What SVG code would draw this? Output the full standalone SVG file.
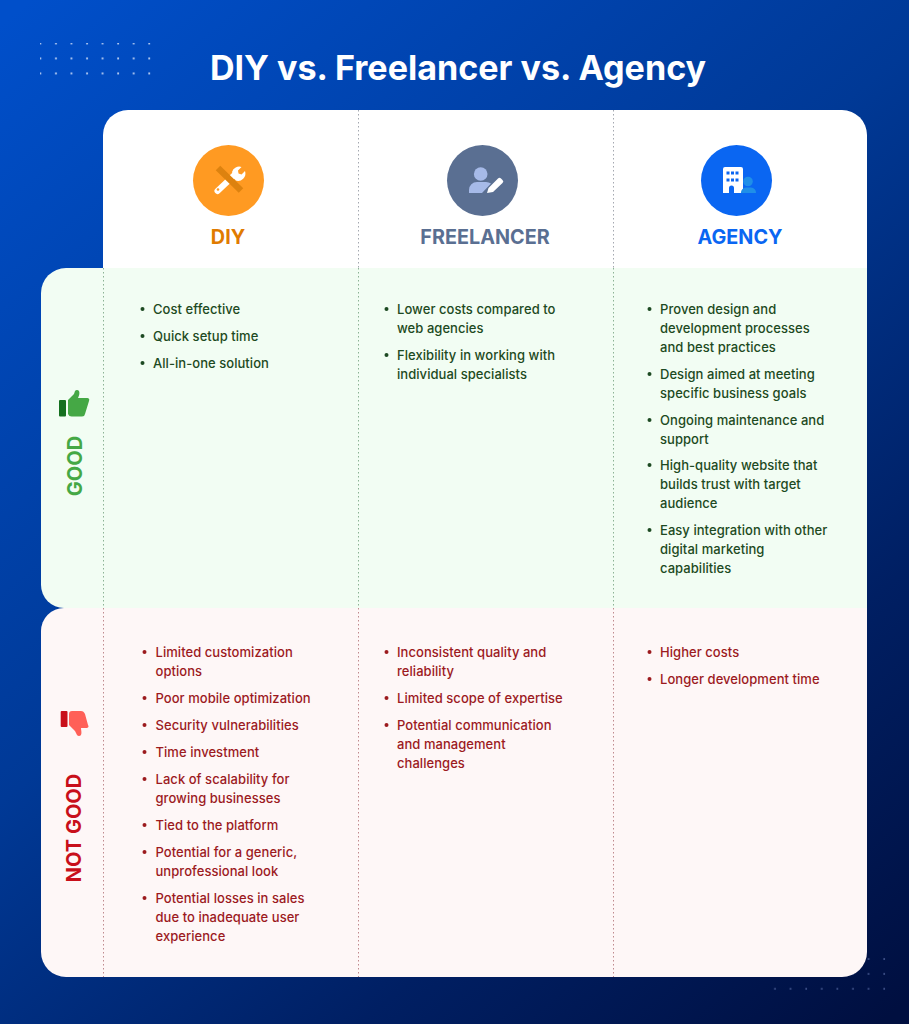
<svg xmlns="http://www.w3.org/2000/svg" width="909" height="1024" viewBox="0 0 909 1024">
<defs>
<linearGradient id="bg" gradientUnits="userSpaceOnUse" x1="30" y1="0" x2="880" y2="1024"><stop offset="0" stop-color="#004fca"/><stop offset="0.45" stop-color="#003996"/><stop offset="0.75" stop-color="#001f63"/><stop offset="1" stop-color="#000f40"/></linearGradient>
<pattern id="dotsA" patternUnits="userSpaceOnUse" x="32.500" y="35.500" width="15.550" height="15"><rect x="7" y="7" width="1.800" height="1.800" fill="#c5d6f5"/></pattern>
<pattern id="dotsB" patternUnits="userSpaceOnUse" x="767" y="951" width="15.600" height="14.900"><rect x="7.200" y="7.200" width="1.600" height="1.600" fill="#4a5d96"/></pattern>
</defs>
<style>
text{font-family:Inter,"Noto Sans","Liberation Sans",sans-serif}
.title{font-size:34.100px;font-weight:700;fill:#fff;text-anchor:middle}
.head{font-size:19.800px;font-weight:700;text-anchor:middle}
.g{font-size:13px;font-weight:500;fill:#1d4a22;letter-spacing:.05px}
.b{font-size:13px;font-weight:500;fill:#9c1a1e;letter-spacing:.05px}
.gb{fill:#1d4a22}.bb{fill:#9c1a1e}
.side{font-size:20px;font-weight:700;text-anchor:middle}
.d{fill:none;stroke-width:1;stroke-dasharray:1.500 2.500}
</style>
<rect width="909" height="1024" fill="url(#bg)"/>
<rect x="40" y="43" width="112" height="32" fill="url(#dotsA)"/>
<rect x="772" y="955" width="115" height="37" fill="url(#dotsB)"/>
<text class="title" x="458" y="80">DIY vs. Freelancer vs. Agency</text>
<g id="header-card"><path d="M103 270V135a25 25 0 0 1 25-25H842a25 25 0 0 1 25 25V270Z" fill="#fff"/></g>
<g id="good-row"><path d="M66 268H867V608H64A23 23 0 0 1 41 585V293A25 25 0 0 1 66 268Z" fill="#f2fdf3"/></g>
<g id="notgood-row"><path d="M64 608H867V952A25 25 0 0 1 842 977H66A25 25 0 0 1 41 952V631A23 23 0 0 1 64 608Z" fill="#fef7f7"/></g>
<g id="connectors">
<path class="d" stroke="#a4a8b0" d="M358.500 110V268M613.500 110V268"/>
<path class="d" stroke="#8cb294" d="M103.500 268V608M358.500 268V608M613.500 268V608"/>
<path class="d" stroke="#c08a8e" d="M103.500 608V977M358.500 608V977M613.500 608V977"/>
</g>
<g id="col-diy">
<circle cx="228.500" cy="180.500" r="35.500" fill="#ff9a22"/>
<path d="M217.500 191L235 174.500" stroke="#fff" stroke-width="6" stroke-linecap="round"/>
<path d="M232 172a7.500 7.500 0 0 1 9.500-5l-3.500 3.500.5 3 3 1 3.500-3.500a7.500 7.500 0 0 1-9.500 9.500Z" fill="#fff"/>
<path d="M218 168L241 190.500" stroke="#dd820f" stroke-width="6.500"/>
<circle cx="218" cy="189.500" r="1.300" fill="#ff9a22"/>
<text class="head" x="228" y="244" fill="#e07b00">DIY</text>
</g>
<g id="col-freelancer">
<circle cx="482.500" cy="180.500" r="35.500" fill="#5a6f92"/>
<circle cx="480.700" cy="174" r="6.800" fill="#a6bae8"/>
<path d="M469 193v-3a8 8 0 0 1 8-8h9a9 9 0 0 1 5 1.500l-9 9.500Z" fill="#a6bae8"/>
<path d="M487 193l1.500-5 9.500-9.500a2 2 0 0 1 3 0l1.500 1.500a2 2 0 0 1 0 3l-9.500 9Z" fill="#fff"/>
<text class="head" x="485" y="244" fill="#5a6f92">FREELANCER</text>
</g>
<g id="col-agency">
<circle cx="736.500" cy="180.500" r="35.500" fill="#0a66f2"/>
<path d="M725 167h16a2 2 0 0 1 2 2v24h-9v-5a2.500 2.500 0 0 0-5 0v5h-6v-24a2 2 0 0 1 2-2Z" fill="#fff"/>
<path d="M726.500 171.500h3v3h-3zM731 171.500h3v3h-3zM735.500 171.500h3v3h-3zM726.500 178.500h3v3h-3zM731 178.500h3v3h-3zM735.500 178.500h3v3h-3z" fill="#0a66f2"/>
<circle cx="748" cy="181.500" r="4.800" fill="#1f8fe8"/>
<path d="M741 193a5 5 0 0 1 5-5.500h5a5 5 0 0 1 5 5.500Z" fill="#1f8fe8"/>
<text class="head" x="740" y="244" fill="#0a66f2">AGENCY</text>
</g>
<g id="label-good">
<rect x="59" y="400" width="7" height="16.500" rx="1" fill="#15701f"/>
<path d="M68 414V400l6-6 1-3a2.500 2.500 0 0 1 4 0c1 2 0 5-1 7h9a2 2 0 0 1 2 3l-4 13a3 3 0 0 1-3 2.500H72a4 4 0 0 1-4-2.500Z" fill="#45a845"/>
<text class="side" transform="translate(82,466) rotate(-90)" fill="#45a845" y="0">GOOD</text>
</g>
<g id="label-notgood">
<rect x="60.700" y="711" width="6.800" height="16" rx="1" fill="#c80f1a"/>
<path d="M69 714a3 3 0 0 1 3-3h9c2 0 3 1 4 3l3 11a2 2 0 0 1-1 3h-6c0 2 1 5 0 7a2.500 2.500 0 0 1-4 0l-2-4-6-6Z" fill="#ff6058"/>
<text class="side" transform="translate(81,828) rotate(-90)" fill="#c80f1a" y="0">NOT GOOD</text>
</g>
<g id="good-diy">
<circle class="gb" cx="142.500" cy="309" r="2"/><text class="g" x="153" y="314">Cost effective</text>
<circle class="gb" cx="142.500" cy="336" r="2"/><text class="g" x="153" y="341">Quick setup time</text>
<circle class="gb" cx="142.500" cy="363" r="2"/><text class="g" x="153" y="368">All-in-one solution</text>
</g>
<g id="good-freelancer">
<circle class="gb" cx="386.500" cy="309" r="2"/><text class="g" x="397" y="314">Lower costs compared to</text><text class="g" x="397" y="333">web agencies</text>
<circle class="gb" cx="386.500" cy="355" r="2"/><text class="g" x="397" y="360">Flexibility in working with</text><text class="g" x="397" y="379">individual specialists</text>
</g>
<g id="good-agency">
<circle class="gb" cx="649.500" cy="309" r="2"/><text class="g" x="660" y="314">Proven design and</text><text class="g" x="660" y="333">development processes</text><text class="g" x="660" y="352">and best practices</text>
<circle class="gb" cx="649.500" cy="374" r="2"/><text class="g" x="660" y="379">Design aimed at meeting</text><text class="g" x="660" y="398">specific business goals</text>
<circle class="gb" cx="649.500" cy="420" r="2"/><text class="g" x="660" y="425">Ongoing maintenance and</text><text class="g" x="660" y="444">support</text>
<circle class="gb" cx="649.500" cy="465" r="2"/><text class="g" x="660" y="470">High-quality website that</text><text class="g" x="660" y="489">builds trust with target</text><text class="g" x="660" y="508">audience</text>
<circle class="gb" cx="649.500" cy="530" r="2"/><text class="g" x="660" y="535">Easy integration with other</text><text class="g" x="660" y="554">digital marketing</text><text class="g" x="660" y="573">capabilities</text>
</g>
<g id="bad-diy">
<circle class="bb" cx="144.500" cy="652" r="2"/><text class="b" x="155.500" y="657">Limited customization</text><text class="b" x="155.500" y="676">options</text>
<circle class="bb" cx="144.500" cy="698" r="2"/><text class="b" x="155.500" y="703">Poor mobile optimization</text>
<circle class="bb" cx="144.500" cy="725" r="2"/><text class="b" x="155.500" y="730">Security vulnerabilities</text>
<circle class="bb" cx="144.500" cy="752" r="2"/><text class="b" x="155.500" y="757">Time investment</text>
<circle class="bb" cx="144.500" cy="779" r="2"/><text class="b" x="155.500" y="784">Lack of scalability for</text><text class="b" x="155.500" y="803">growing businesses</text>
<circle class="bb" cx="144.500" cy="825" r="2"/><text class="b" x="155.500" y="830">Tied to the platform</text>
<circle class="bb" cx="144.500" cy="852" r="2"/><text class="b" x="155.500" y="857">Potential for a generic,</text><text class="b" x="155.500" y="876">unprofessional look</text>
<circle class="bb" cx="144.500" cy="898" r="2"/><text class="b" x="155.500" y="903">Potential losses in sales</text><text class="b" x="155.500" y="922">due to inadequate user</text><text class="b" x="155.500" y="941">experience</text>
</g>
<g id="bad-freelancer">
<circle class="bb" cx="386.500" cy="652" r="2"/><text class="b" x="397" y="657">Inconsistent quality and</text><text class="b" x="397" y="676">reliability</text>
<circle class="bb" cx="386.500" cy="698" r="2"/><text class="b" x="397" y="703">Limited scope of expertise</text>
<circle class="bb" cx="386.500" cy="725" r="2"/><text class="b" x="397" y="730">Potential communication</text><text class="b" x="397" y="749">and management</text><text class="b" x="397" y="768">challenges</text>
</g>
<g id="bad-agency">
<circle class="bb" cx="649.500" cy="652" r="2"/><text class="b" x="660" y="657">Higher costs</text>
<circle class="bb" cx="649.500" cy="679" r="2"/><text class="b" x="660" y="684">Longer development time</text>
</g>
</svg>
